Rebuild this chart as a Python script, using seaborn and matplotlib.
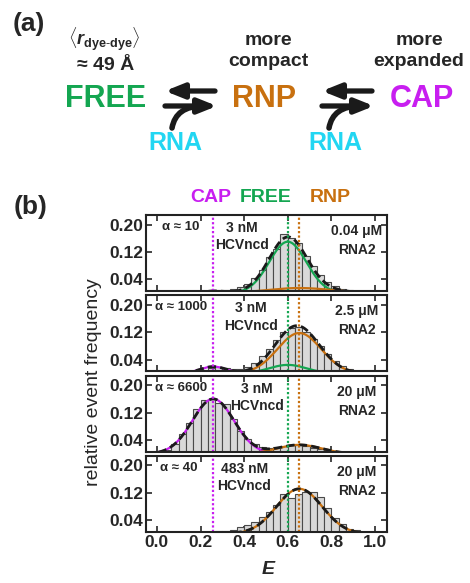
import numpy as np
import pandas as pd
import matplotlib
matplotlib.use("Agg")
import matplotlib.pyplot as plt
import seaborn as sns

# ---- data ----
n_bins = 30                                    # 30 bins of width 1/30 over 0..1
bin_centres = (np.arange(n_bins) + 0.5) / n_bins

freq_p1 = [0.0, 0.0, 0.002, 0.003, 0.004, 0.005, 0.006, 0.008, 0.008, 0.008,
           0.012, 0.018, 0.026, 0.043, 0.068, 0.105, 0.128, 0.172, 0.162, 0.146,
           0.108, 0.078, 0.053, 0.033, 0.020, 0.012, 0.008, 0.005, 0.003, 0.002]
freq_p2 = [0.0, 0.0, 0.002, 0.003, 0.004, 0.006, 0.010, 0.016, 0.020, 0.016,
           0.012, 0.012, 0.018, 0.030, 0.050, 0.072, 0.097, 0.120, 0.134, 0.135,
           0.120, 0.100, 0.080, 0.056, 0.036, 0.022, 0.013, 0.007, 0.004, 0.002]
freq_p3 = [0.003, 0.012, 0.028, 0.058, 0.090, 0.130, 0.158, 0.160, 0.148, 0.145,
           0.100, 0.065, 0.042, 0.028, 0.020, 0.018, 0.020, 0.022, 0.025, 0.025,
           0.022, 0.018, 0.014, 0.010, 0.007, 0.005, 0.003, 0.002, 0.001, 0.001]
freq_p4 = [0.0, 0.0, 0.0, 0.0, 0.0, 0.002, 0.004, 0.006, 0.008, 0.010,
           0.012, 0.020, 0.025, 0.035, 0.051, 0.065, 0.085, 0.118, 0.105, 0.118,
           0.122, 0.122, 0.108, 0.075, 0.046, 0.028, 0.016, 0.012, 0.007, 0.003]
panel_freqs = [freq_p1, freq_p2, freq_p3, freq_p4]

# fitted gaussian components (peak height, centre, width) per panel
cap_pos, free_pos, rnp_pos = 0.258, 0.600, 0.653
cap_amp = [0.006, 0.020, 0.160, 0.004]
cap_sig = [0.05, 0.06, 0.095, 0.08]
free_amp = [0.150, 0.025, 0.0, 0.0]
free_sig = [0.085, 0.085, 0.085, 0.085]
rnp_amp = [0.015, 0.118, 0.026, 0.132]
rnp_sig = [0.15, 0.10, 0.10, 0.105]

alpha_labels = ["α ≈ 10", "α ≈ 1000", "α ≈ 6600", "α ≈ 40"]
hcv_labels = ["3 nM\nHCVncd", "3 nM\nHCVncd", "3 nM\nHCVncd", "483 nM\nHCVncd"]
hcv_x = [0.39, 0.43, 0.46, 0.40]
alpha_x = [0.025, -0.01, -0.01, 0.015]
rna_labels = ["0.04 μM\nRNA2", "2.5 μM\nRNA2", "20 μM\nRNA2", "20 μM\nRNA2"]

yticks = [0.04, 0.12, 0.20]
xticks = [0.0, 0.2, 0.4, 0.6, 0.8, 1.0]

GREEN = "#14a651"
ORANGE = "#c8700f"
MAGENTA = "#c81ef0"
CYAN = "#22d6f2"

sns.set_theme(style="ticks")
plt.rcParams['font.family'] = ['Liberation Sans', 'DejaVu Sans']
plt.rcParams['mathtext.fontset'] = 'custom'
plt.rcParams['mathtext.rm'] = 'Liberation Sans'
plt.rcParams['mathtext.it'] = 'Liberation Sans:italic'
plt.rcParams['mathtext.bf'] = 'Liberation Sans:bold'
plt.rcParams['mathtext.bfit'] = 'Liberation Sans:italic:bold'

W, H = 470, 583
fig = plt.figure(figsize=(W / 100, H / 100), dpi=100)


def fx(px):
    return px / W


def fy(py):
    return 1 - py / H


def gauss(x, a, m, s):
    return a * np.exp(-(x - m) ** 2 / (2 * s ** 2))


# ---- panel (a): reaction scheme ----
fig.text(fx(29), fy(24), "(a)", fontsize=19, fontweight='bold', ha='center', va='center')
fig.text(fx(104), fy(39), r'$\langle\mathbfit{r}_{\mathbf{dye}\text{-}\mathbf{dye}}\rangle$',
         fontsize=13, ha='center', va='center')
fig.text(fx(106), fy(65), "≈ 49 Å", fontsize=14, fontweight='bold', ha='center', va='center')
fig.text(fx(268), fy(51), "more\ncompact", fontsize=14, fontweight='bold', ha='center',
         va='center', linespacing=1.25)
fig.text(fx(419), fy(51), "more\nexpanded", fontsize=14, fontweight='bold', ha='center',
         va='center', linespacing=1.25)
fig.text(fx(106), fy(99), "FREE", fontsize=22, fontweight='bold', color=GREEN, ha='center', va='center')
fig.text(fx(264), fy(99), "RNP", fontsize=22, fontweight='bold', color=ORANGE, ha='center', va='center')
fig.text(fx(422), fy(99), "CAP", fontsize=22, fontweight='bold', color=MAGENTA, ha='center', va='center')
fig.text(fx(175), fy(143), "RNA", fontsize=18, fontweight='bold', color=CYAN, ha='center', va='center')
fig.text(fx(335), fy(143), "RNA", fontsize=18, fontweight='bold', color=CYAN, ha='center', va='center')

for x0, x1 in [(165, 215), (322, 372)]:
    arrow = dict(arrowstyle='-|>,head_length=1.0,head_width=0.4', mutation_scale=11,
                 color='k', lw=3.8, shrinkA=0, shrinkB=0)
    fig.add_artist(matplotlib.patches.FancyArrowPatch(
        (fx(x1), fy(91)), (fx(x0), fy(91)), transform=fig.transFigure, **arrow))
    fig.add_artist(matplotlib.patches.FancyArrowPatch(
        (fx(x0), fy(106)), (fx(x1 + 2), fy(106)), transform=fig.transFigure, **arrow))
    fig.add_artist(matplotlib.patches.FancyArrowPatch(
        (fx(x0 + 7), fy(128)), (fx(x0 + 38), fy(106)), transform=fig.transFigure,
        arrowstyle='-', color='k', lw=4, shrinkA=0, shrinkB=0,
        connectionstyle="angle3,angleA=80,angleB=0"))

# ---- panel (b): histograms ----
fig.text(fx(31), fy(207), "(b)", fontsize=19, fontweight='bold', ha='center', va='center')
fig.text(fx(211), fy(197), "CAP", fontsize=14, fontweight='bold', color=MAGENTA, ha='center', va='center')
fig.text(fx(266), fy(197), "FREE", fontsize=14, fontweight='bold', color=GREEN, ha='center', va='center')
fig.text(fx(330), fy(197), "RNP", fontsize=14, fontweight='bold', color=ORANGE, ha='center', va='center')

axes = fig.subplots(4, 1, sharex=True)
fig.subplots_adjust(left=fx(146), right=fx(387), top=fy(215), bottom=fy(532), hspace=0.055)

e_grid = np.linspace(-0.05, 1.06, 400)
for i, ax in enumerate(axes):
    hist_df = pd.DataFrame({'E': bin_centres, 'freq': panel_freqs[i]})
    sns.histplot(data=hist_df, x='E', weights='freq', binwidth=1 / n_bins, binrange=(0, 1),
                 ax=ax, color='#d9d9d9', edgecolor='#4a4a4a', linewidth=0.8, alpha=1.0)
    cap = gauss(e_grid, cap_amp[i], cap_pos, cap_sig[i])
    free = gauss(e_grid, free_amp[i], free_pos, free_sig[i])
    rnp = gauss(e_grid, rnp_amp[i], rnp_pos, rnp_sig[i])
    total = cap + free + rnp
    for curve, col in [(cap, MAGENTA), (free, GREEN), (rnp, ORANGE)]:
        sns.lineplot(x=e_grid, y=curve, ax=ax, color=col, lw=1.6)
    sns.lineplot(x=e_grid, y=total, ax=ax, color='k', lw=2.0, linestyle=(0, (3, 1.5)))
    for pos, col in [(cap_pos, MAGENTA), (free_pos, GREEN), (rnp_pos, ORANGE)]:
        ax.axvline(pos, color=col, lw=1.6, linestyle=(0, (1, 1)))

    ax.set_xlim(-0.05, 1.055)
    ax.set_ylim(0.006, 0.228)
    ax.set_yticks(yticks)
    ax.set_yticklabels([f"{t:.2f}" for t in yticks], fontsize=12.5, fontweight='bold')
    ax.set_xticks(xticks)
    ax.set_ylabel("")
    ax.tick_params(direction='in', top=True, right=True, length=4, width=1.2, pad=2)
    for sp in ax.spines.values():
        sp.set_linewidth(1.5)
        sp.set_color('#222222')

    ax.text(alpha_x[i], 1 - 12 / 76, alpha_labels[i], transform=ax.get_xaxis_transform(),
            fontsize=9.5, fontweight='bold', ha='left', va='center')
    ax.text(hcv_x[i], 1 - 6 / 76, hcv_labels[i], transform=ax.get_xaxis_transform(),
            fontsize=10, fontweight='bold', ha='center', va='top', linespacing=1.3)
    ax.text(0.917, 1 - 9 / 76, rna_labels[i], transform=ax.get_xaxis_transform(),
            fontsize=10, fontweight='bold', ha='center', va='top', linespacing=1.45)

axes[-1].set_xticklabels([f"{t:.1f}" for t in xticks], fontsize=12.5, fontweight='bold')
axes[-1].set_xlabel("")
fig.text(fx(268), fy(570), "E", fontsize=14, fontweight='bold', fontstyle='italic',
         ha='center', va='center')
fig.text(fx(94), fy(382), "relative event frequency", fontsize=14, rotation=90,
         ha='center', va='center')

fig.savefig("out.png", dpi=100)
